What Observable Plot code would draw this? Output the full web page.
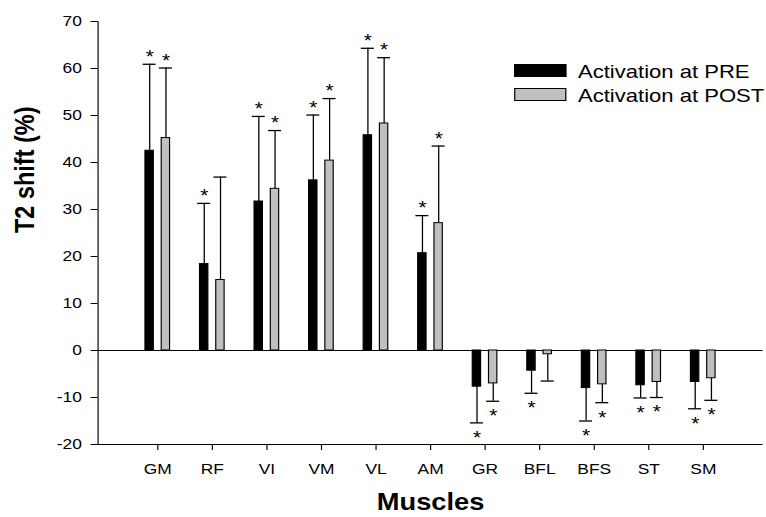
<!DOCTYPE html>
<html>
<head>
<meta charset="utf-8">
<script src="https://cdn.jsdelivr.net/npm/d3@7"></script>
<script src="https://cdn.jsdelivr.net/npm/@observablehq/plot@0.6"></script>
<style>
  html, body { margin: 0; padding: 0; background: #fff; overflow: hidden; }
  #wrap { position: relative; width: 660px; height: 517px; transform: scaleX(1.1606); transform-origin: 0 0;
          font-family: "Liberation Sans", Arial, sans-serif; }
  #wrap svg g[aria-label$="tick label"],
  #wrap svg g[aria-label="x-axis"] text,
  #wrap svg g[aria-label="y-axis"] text { font-size: 15px; }
  .sw { position: absolute; box-sizing: border-box; border: 1.3px solid #000; }
  .lt { position: absolute; font-size: 19px; line-height: 19px; white-space: nowrap; color: #000; }
</style>
</head>
<body>
<div id="wrap"></div>
<script>
// ---- data ----
const muscles = ["GM", "RF", "VI", "VM", "VL", "AM", "GR", "BFL", "BFS", "ST", "SM"];
const preMean  = [42.5, 18.4, 31.7, 36.2, 45.8, 20.7, -7.7, -4.3, -8.0, -7.4, -6.7];
const preSD    = [18.4, 12.9, 18.1, 13.9, 18.5,  8.0,  7.7,  4.8,  7.0,  2.7,  5.7];
const preSig   = [true, true, true, true, true, true, true, true, true, true, true];
const postMean = [45.2, 15.0, 34.4, 40.4, 48.3, 27.1, -7.0, -0.8, -7.2, -6.7, -5.9];
const postSD   = [14.9, 21.9, 12.4, 13.2, 14.0, 16.4,  3.8,  5.7,  3.9,  3.3,  4.7];
const postSig  = [true, false, true, true, true, true, true, false, true, true, true];
const seriesNames = ["Activation at PRE", "Activation at POST"];
const seriesColors = ["#000000", "#c0c0c0"];
const yTicks = [-20, -10, 0, 10, 20, 30, 40, 50, 60, 70];
const xLabel = "Muscles";
const yLabel = "T2 shift (%)";

function rows(mean, sd, sig) {
  return muscles.map((m, i) => ({
    muscle: m,
    mean: mean[i],
    cap: mean[i] + (mean[i] < 0 ? -sd[i] : sd[i]),
    sig: sig[i]
  }));
}
const pre = rows(preMean, preSD, preSig);
const post = rows(postMean, postSD, postSig);

const barInset = 19.9;
const capInset = 17.9;

function seriesMarks(data, off, fill) {
  const sigPos = data.filter(d => d.sig && d.mean >= 0);
  const sigNeg = data.filter(d => d.sig && d.mean < 0);
  return [
    Plot.ruleX(data, {x: "muscle", y1: "mean", y2: "cap", dx: off, stroke: "#000", strokeWidth: 1.1}),
    Plot.tickY(data, {x: "muscle", y: "cap", dx: off, insetLeft: capInset, insetRight: capInset, stroke: "#000", strokeWidth: 1.3}),
    Plot.barY(data, {x: "muscle", y: "mean", dx: off, insetLeft: barInset, insetRight: barInset, fill, stroke: "#000", strokeWidth: 1}),
    Plot.text(sigPos, {x: "muscle", y: "cap", text: () => "*", dx: off, dy: -7.2, fontSize: 18}),
    Plot.text(sigNeg, {x: "muscle", y: "cap", text: () => "*", dx: off, dy: 15.1, fontSize: 18})
  ];
}

const chart = Plot.plot({
  width: 660,
  height: 517,
  marginLeft: 84,
  marginRight: 3,
  marginTop: 21,
  marginBottom: 73,
  style: {fontFamily: "'Liberation Sans', Arial, sans-serif", fontSize: "15px", background: "white", color: "#000"},
  x: {type: "band", domain: muscles, paddingInner: 0, paddingOuter: 0.5, label: null, tickSize: 6, tickPadding: 13},
  y: {domain: [-20, 70], ticks: yTicks, tickFormat: d => String(d), label: null, tickSize: 6, tickPadding: 8, line: true},
  marks: [
    Plot.ruleY([-20], {stroke: "#000", strokeWidth: 1.2}),
    Plot.ruleY([0], {stroke: "#000", strokeWidth: 1.2}),
    ...seriesMarks(pre, -7, seriesColors[0]),
    ...seriesMarks(post, 7, seriesColors[1]),
    Plot.text([yLabel], {frameAnchor: "left", text: d => d, rotate: -90, dx: -63, fontSize: 23.5, fontWeight: "bold"}),
    Plot.text([xLabel], {frameAnchor: "bottom", text: d => d, dy: 65, fontSize: 23.5, fontWeight: "bold"})
  ]
});

const wrap = document.getElementById("wrap");
wrap.appendChild(chart);

// legend
seriesNames.forEach((name, i) => {
  const sw = document.createElement("div");
  sw.className = "sw";
  sw.style.left = "443px";
  sw.style.top = (64 + i * 23.5) + "px";
  sw.style.width = "45px";
  sw.style.height = "13px";
  sw.style.background = seriesColors[i];
  wrap.appendChild(sw);
  const t = document.createElement("div");
  t.className = "lt";
  t.style.left = "498px";
  t.style.top = (61.6 + i * 24) + "px";
  t.textContent = name;
  wrap.appendChild(t);
});
</script>
</body>
</html>
